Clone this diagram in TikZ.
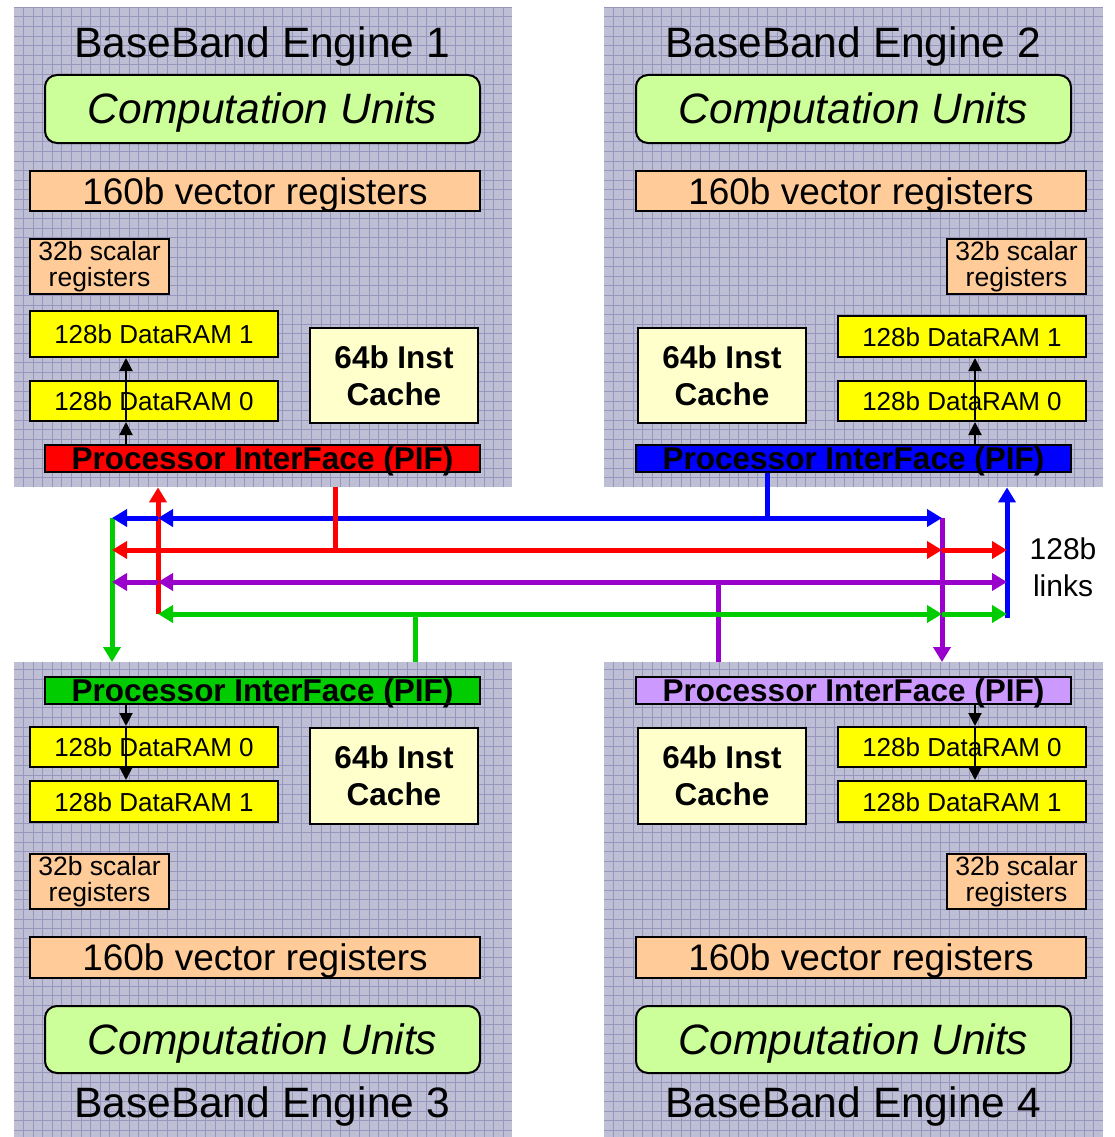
\documentclass[tikz,border=0pt]{standalone}
\usepackage{fontspec}
\setmainfont{Liberation Sans}
\usetikzlibrary{arrows.meta}

\definecolor{panelbg}{RGB}{190,190,212}
\definecolor{panelgrid}{RGB}{150,150,190}
\definecolor{cugreen}{RGB}{204,255,153}
\definecolor{regorange}{RGB}{255,204,153}
\definecolor{ramyellow}{RGB}{255,255,0}
\definecolor{cachecream}{RGB}{255,255,204}
\definecolor{linkred}{RGB}{255,0,0}
\definecolor{linkblue}{RGB}{0,0,255}
\definecolor{linkgreen}{RGB}{0,204,0}
\definecolor{linkpurple}{RGB}{153,0,204}
\definecolor{piflilac}{RGB}{204,153,255}

\tikzset{
  panel/.style={anchor=north west, inner sep=0, minimum width=498, fill=panelbg,
    path picture={\draw[panelgrid, line width=0.6pt] (path picture bounding box.south west)
      grid[step=9.6pt] (path picture bounding box.north east);}},
  title/.style={anchor=base, font=\fontsize{42.5}{46}\selectfont},
  unit/.style={draw, line width=2pt, inner sep=0},
  cubox/.style={unit, fill=cugreen, rounded corners=12pt, minimum width=435, minimum height=68,
    text height=30pt, text depth=0pt, font=\fontsize{42.5}{46}\selectfont\itshape},
  vecbox/.style={unit, fill=regorange, minimum width=450, minimum height=40,
    text height=26.5pt, text depth=0pt, font=\fontsize{37}{40}\selectfont},
  scabox/.style={unit, fill=regorange, minimum width=139, minimum height=55, align=center,
    font=\fontsize{26.5}{26}\selectfont},
  rambox/.style={unit, fill=ramyellow, minimum width=248, minimum height=40,
    text height=19pt, text depth=0pt, font=\fontsize{26}{28}\selectfont},
  cachebox/.style={unit, fill=cachecream, minimum width=168, minimum height=95, align=center,
    font=\fontsize{31.5}{37}\selectfont\bfseries},
  pifbox/.style={unit, minimum width=435, minimum height=27},
  piftext/.style={font=\fontsize{31.5}{34}\selectfont\bfseries, yshift=-3pt},
  ramarrow/.style={line width=2pt, -{Triangle[length=13pt,width=13pt]}},
  link/.style={line width=5pt},
  linktip/.style={link, -{Triangle[length=15pt,width=17pt]}},
  linklabel/.style={align=center, font=\fontsize{30}{37}\selectfont}
}

\begin{document}
\begin{tikzpicture}[x=1pt, y=-1pt]
  \useasboundingbox (0,0) rectangle (1114,1137);

  % BaseBand Engine 1
  \node[panel, minimum height=480] (eng1) at (14,7) {};
  \node[title] (title1) at (262,58) {BaseBand Engine 1};
  \node[cubox] (cu1) at (262.5,109) {Computation Units};
  \node[vecbox] (vec1) at (255,191) {160b vector registers};
  \node[scabox] (sca1) at (99.5,266.5) {32b scalar\\registers};
  \node[rambox, minimum height=46] (e1ram1) at (154,334) {128b DataRAM 1};
  \node[rambox] (e1ram0) at (154,401) {128b DataRAM 0};
  \node[cachebox] (ic1) at (394,375.5) {64b Inst\\Cache};
  \node[pifbox, fill=linkred, label={[piftext]center:Processor InterFace (PIF)}] (pif1) at (262.5,458.5) {};

  % BaseBand Engine 2
  \node[panel, minimum width=499, minimum height=480] (eng2) at (604,7) {};
  \node[title] (title2) at (853,58) {BaseBand Engine 2};
  \node[cubox] (cu2) at (853.5,109) {Computation Units};
  \node[vecbox] (vec2) at (861,191) {160b vector registers};
  \node[scabox] (sca2) at (1016.5,266.5) {32b scalar\\registers};
  \node[rambox, minimum height=41] (e2ram1) at (962,336.5) {128b DataRAM 1};
  \node[rambox] (e2ram0) at (962,401) {128b DataRAM 0};
  \node[cachebox] (ic2) at (722,375.5) {64b Inst\\Cache};
  \node[pifbox, fill=linkblue, label={[piftext]center:Processor InterFace (PIF)}] (pif2) at (853.5,458.5) {};

  % BaseBand Engine 3
  \node[panel, minimum height=475] (eng3) at (14,662) {};
  \node[pifbox, fill=linkgreen, label={[piftext]center:Processor InterFace (PIF)}] (pif3) at (262.5,690) {};
  \node[rambox] (e3ram0) at (154,747) {128b DataRAM 0};
  \node[rambox, minimum height=41] (e3ram1) at (154,801.5) {128b DataRAM 1};
  \node[cachebox, minimum height=96] (ic3) at (394,776) {64b Inst\\Cache};
  \node[scabox] (sca3) at (99.5,881.5) {32b scalar\\registers};
  \node[vecbox, minimum height=41] (vec3) at (255,957.5) {160b vector registers};
  \node[cubox, minimum height=67] (cu3) at (262.5,1039.5) {Computation Units};
  \node[title] (title3) at (262,1117) {BaseBand Engine 3};

  % BaseBand Engine 4
  \node[panel, minimum width=499, minimum height=475] (eng4) at (604,662) {};
  \node[pifbox, fill=piflilac, label={[piftext]center:Processor InterFace (PIF)}] (pif4) at (853.5,690) {};
  \node[rambox] (e4ram0) at (962,747) {128b DataRAM 0};
  \node[rambox, minimum height=41] (e4ram1) at (962,801.5) {128b DataRAM 1};
  \node[cachebox, minimum height=96] (ic4) at (722,776) {64b Inst\\Cache};
  \node[scabox] (sca4) at (1016.5,881.5) {32b scalar\\registers};
  \node[vecbox, minimum height=41] (vec4) at (861,957.5) {160b vector registers};
  \node[cubox, minimum height=67] (cu4) at (853.5,1039.5) {Computation Units};
  \node[title] (title4) at (853,1117) {BaseBand Engine 4};

  % PIF to DataRAM paths
  \coordinate (tapL) at (126,0);
  \coordinate (tapR) at (975,0);
  \draw[ramarrow] (tapL |- pif1.north) -- (tapL |- e1ram0.south);
  \draw[ramarrow] (tapL |- e1ram0.south) -- (tapL |- e1ram1.south);
  \draw[ramarrow] (tapR |- pif2.north) -- (tapR |- e2ram0.south);
  \draw[ramarrow] (tapR |- e2ram0.south) -- (tapR |- e2ram1.south);
  \draw[ramarrow] (tapL |- pif3.south) -- (tapL |- e3ram0.north);
  \draw[ramarrow] (tapL |- e3ram0.north) -- (tapL |- e3ram1.north);
  \draw[ramarrow] (tapR |- pif4.south) -- (tapR |- e4ram0.north);
  \draw[ramarrow] (tapR |- e4ram0.north) -- (tapR |- e4ram1.north);

  % 128b links: input buses
  \coordinate (in3) at (112,518);
  \coordinate (in1) at (158,614);
  \coordinate (in4) at (942,518);
  \coordinate (in2) at (1007,618);
  % 128b links: output buses
  \coordinate (out2) at (767,518);
  \coordinate (out1) at (335,550);
  \coordinate (out4) at (718,582);
  \coordinate (out3) at (415,614);

  \draw[linktip, linkgreen] (in3) -- (in3 |- eng3.north);
  \draw[linktip, linkred] (in1) -- (in1 |- eng1.south);
  \draw[linktip, linkpurple] (in4) -- (in4 |- eng4.north);
  \draw[linktip, linkblue] (in2) -- (in2 |- eng2.south);

  % engine 2 out
  \draw[link, linkblue] (pif2.south -| out2) -- (out2);
  \draw[linktip, linkblue] (out2) -- (in4);
  \draw[linktip, linkblue] (out2) -- (out2 -| in1);
  \draw[linktip, linkblue] (out2 -| in1) -- (in3);
  % engine 1 out
  \draw[link, linkred] (eng1.south -| out1) -- (out1);
  \draw[linktip, linkred] (out1) -- (out1 -| in3);
  \draw[linktip, linkred] (out1) -- (out1 -| in4);
  \draw[linktip, linkred] (out1 -| in4) -- (out1 -| in2);
  % engine 4 out
  \draw[link, linkpurple] (eng4.north -| out4) -- (out4);
  \draw[linktip, linkpurple] (out4) -- (out4 -| in1);
  \draw[linktip, linkpurple] (out4 -| in1) -- (out4 -| in3);
  \draw[linktip, linkpurple] (out4) -- (out4 -| in2);
  % engine 3 out
  \draw[link, linkgreen] (eng3.north -| out3) -- (out3);
  \draw[linktip, linkgreen] (out3) -- (out3 -| in1);
  \draw[linktip, linkgreen] (out3) -- (out3 -| in4);
  \draw[linktip, linkgreen] (out3 -| in4) -- (out3 -| in2);

  \node[linklabel] (links) at (1063,567) {128b\\links};
\end{tikzpicture}
\end{document}
